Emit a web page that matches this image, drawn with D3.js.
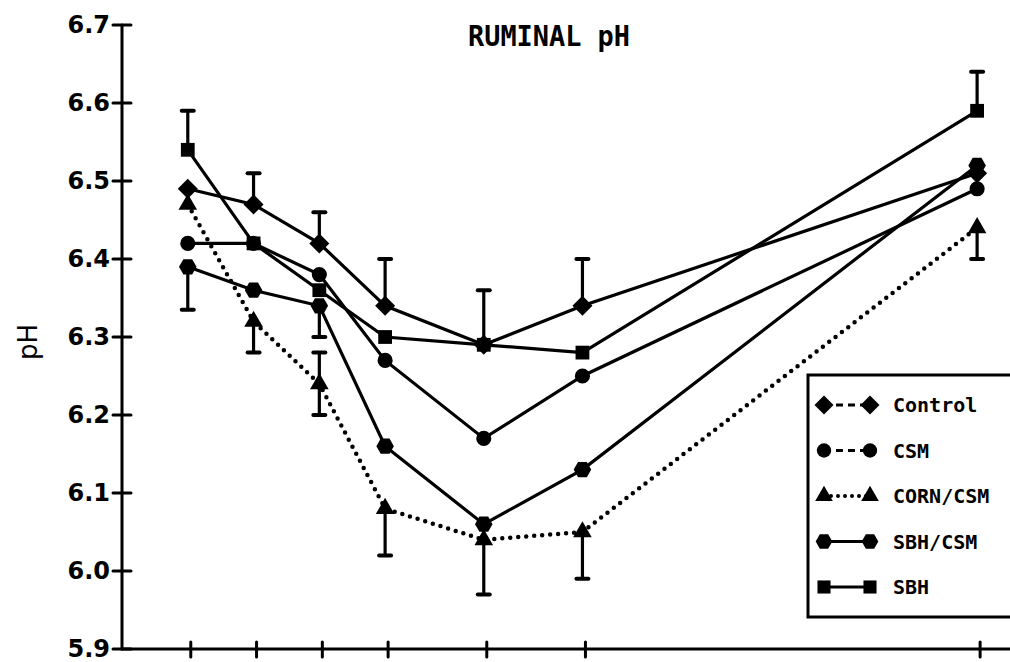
<!DOCTYPE html>
<html>
<head>
<meta charset="utf-8">
<script src="https://cdn.jsdelivr.net/npm/d3@7/dist/d3.min.js"></script>
<style>
  body { margin: 0; background: #fff; }
  svg { display: block; }
</style>
</head>
<body>
<div id="chart"></div>
<script>
// sampling times (h after feeding)
var times = [0, 1, 2, 3, 4.5, 6, 12];
var yTicks = [5.9, 6.0, 6.1, 6.2, 6.3, 6.4, 6.5, 6.6, 6.7];

// mean ruminal pH per treatment
var control = [6.49, 6.47, 6.42, 6.34, 6.29, 6.34, 6.51];
var csm     = [6.42, 6.42, 6.38, 6.27, 6.17, 6.25, 6.49];
var cornCsm = [6.47, 6.32, 6.24, 6.08, 6.04, 6.05, 6.44];
var sbhCsm  = [6.39, 6.36, 6.34, 6.16, 6.06, 6.13, 6.52];
var sbh     = [6.54, 6.42, 6.36, 6.30, 6.29, 6.28, 6.59];

// one-sided error bars (null = not drawn)
var controlErrUp   = [null, 0.04, 0.04, 0.06, 0.07, 0.06, null];
var sbhErrUp       = [0.05, null, null, null, null, null, 0.05];
var cornErrUp      = [null, null, 0.04, null, null, null, null];
var cornErrDown    = [null, 0.04, 0.04, 0.06, 0.07, 0.06, 0.04];
var sbhCsmErrDown  = [0.055, null, 0.04, null, null, null, null];

var width = 1010, height = 662;
var margin = {top: 25, right: 0, bottom: 13, left: 122};

var svg = d3.select("#chart").append("svg")
    .attr("width", width)
    .attr("height", height);

var x = d3.scaleLinear().domain([-1, 12.5]).range([margin.left, width - margin.right]);
var y = d3.scaleLinear().domain([5.9, 6.7]).range([height - margin.bottom, margin.top]);

// custom hexagon symbol for SBH/CSM
var hexagon = {
  draw: function(ctx, size) {
    var r = Math.sqrt(size / 2.598);
    for (var i = 0; i < 6; i++) {
      var a = Math.PI / 3 * i;
      if (i == 0) ctx.moveTo(r * Math.cos(a), r * Math.sin(a));
      else ctx.lineTo(r * Math.cos(a), r * Math.sin(a));
    }
    ctx.closePath();
  }
};

// square turned 45 degrees
var diamond = {
  draw: function(ctx, size) {
    var r = Math.sqrt(size / 2);
    ctx.moveTo(0, -r);
    ctx.lineTo(r, 0);
    ctx.lineTo(0, r);
    ctx.lineTo(-r, 0);
    ctx.closePath();
  }
};

var series = [
  {name: "Control",  values: control, symbol: diamond,           size: 200, dash: null,   legendDash: "7,5"},
  {name: "CSM",      values: csm,     symbol: d3.symbolCircle,   size: 180, dash: null,   legendDash: "7,5"},
  {name: "CORN/CSM", values: cornCsm, symbol: d3.symbolTriangle, size: 150, dash: "0,8",  legendDash: "0,7"},
  {name: "SBH/CSM",  values: sbhCsm,  symbol: hexagon,           size: 200, dash: null,   legendDash: null},
  {name: "SBH",      values: sbh,     symbol: d3.symbolSquare,   size: 190, dash: null,   legendDash: null}
];

var font = "'DejaVu Sans Mono', monospace";

// axes
var axis = svg.append("g").attr("stroke", "#000").attr("stroke-width", 3).attr("stroke-linecap", "round");
axis.append("line")
    .attr("x1", x(-1)).attr("x2", x(-1))
    .attr("y1", y(6.7)).attr("y2", y(5.9));
axis.append("line")
    .attr("x1", x(-1)).attr("x2", width)
    .attr("y1", y(5.9)).attr("y2", y(5.9));

axis.selectAll(".ytick").data(yTicks).enter().append("line")
    .attr("x1", x(-1) - 9).attr("x2", x(-1) + 9)
    .attr("y1", function(d) { return y(d); })
    .attr("y2", function(d) { return y(d); });

axis.selectAll(".xtick").data(times).enter().append("line")
    .attr("x1", function(d) { return x(d) + 3; })
    .attr("x2", function(d) { return x(d) + 3; })
    .attr("y1", y(5.9) - 7).attr("y2", y(5.9) + 8);

svg.selectAll(".ylabel").data(yTicks).enter().append("text")
    .attr("x", x(-1) - 12)
    .attr("y", function(d) { return y(d) + 8; })
    .attr("text-anchor", "end")
    .attr("font-family", "'DejaVu Sans', sans-serif")
    .attr("font-weight", "bold")
    .attr("font-size", 24)
    .text(function(d) { return d3.format(".1f")(d); });

svg.append("text")
    .attr("transform", "translate(37,342) rotate(-90)")
    .attr("text-anchor", "middle")
    .attr("font-family", "'DejaVu Sans', sans-serif")
    .attr("font-size", 26)
    .text("pH");

svg.append("text")
    .attr("x", 468).attr("y", 46)
    .attr("font-family", font)
    .attr("font-weight", "bold")
    .attr("font-size", 29)
    .attr("textLength", 162)
    .attr("lengthAdjust", "spacingAndGlyphs")
    .text("RUMINAL pH");

// lines
var line = d3.line()
    .x(function(d, i) { return x(times[i]); })
    .y(function(d) { return y(d); });

series.forEach(function(s) {
  svg.append("path")
      .datum(s.values)
      .attr("d", line)
      .attr("fill", "none")
      .attr("stroke", "#000")
      .attr("stroke-width", s.dash ? 4.5 : 3.2)
      .attr("stroke-linecap", "round")
      .attr("stroke-dasharray", s.dash);
});

// error bars
function errorBars(values, errs, sign) {
  errs.forEach(function(e, i) {
    if (e == null) return;
    var cx = x(times[i]), cy = y(values[i]), ey = y(values[i] + sign * e);
    svg.append("line")
        .attr("x1", cx).attr("x2", cx).attr("y1", cy).attr("y2", ey)
        .attr("stroke", "#000").attr("stroke-width", 3.2);
    svg.append("line")
        .attr("x1", cx - 6).attr("x2", cx + 6).attr("y1", ey).attr("y2", ey)
        .attr("stroke", "#000").attr("stroke-width", 4).attr("stroke-linecap", "round");
  });
}
errorBars(control, controlErrUp, 1);
errorBars(sbh, sbhErrUp, 1);
errorBars(cornCsm, cornErrUp, 1);
errorBars(cornCsm, cornErrDown, -1);
errorBars(sbhCsm, sbhCsmErrDown, -1);

// markers
series.forEach(function(s) {
  svg.selectAll(null).data(s.values).enter().append("path")
      .attr("transform", function(d, i) { return "translate(" + x(times[i]) + "," + y(d) + ")"; })
      .attr("d", d3.symbol().type(s.symbol).size(s.size))
      .attr("fill", "#000");
});

// legend
var legend = svg.append("g");
legend.append("rect")
    .attr("x", 808).attr("y", 375)
    .attr("width", 230).attr("height", 242)
    .attr("fill", "#fff")
    .attr("stroke", "#000")
    .attr("stroke-width", 3);

var legendY = d3.scalePoint().domain(series.map(function(s) { return s.name; })).range([405, 587]);

series.forEach(function(s) {
  var ly = legendY(s.name);
  legend.append("line")
      .attr("x1", 824).attr("x2", 870)
      .attr("y1", ly).attr("y2", ly)
      .attr("stroke", "#000")
      .attr("stroke-width", s.dash ? 4 : 3)
      .attr("stroke-linecap", s.dash ? "round" : "butt")
      .attr("stroke-dasharray", s.legendDash);
  [824, 870].forEach(function(lx) {
    legend.append("path")
        .attr("transform", "translate(" + lx + "," + ly + ")")
        .attr("d", d3.symbol().type(s.symbol).size(s.size * 0.9))
        .attr("fill", "#000");
  });
  legend.append("text")
      .attr("x", 893).attr("y", ly + 7)
      .attr("font-family", font)
      .attr("font-weight", "bold")
      .attr("font-size", 20)
      .text(s.name);
});
</script>
</body>
</html>
